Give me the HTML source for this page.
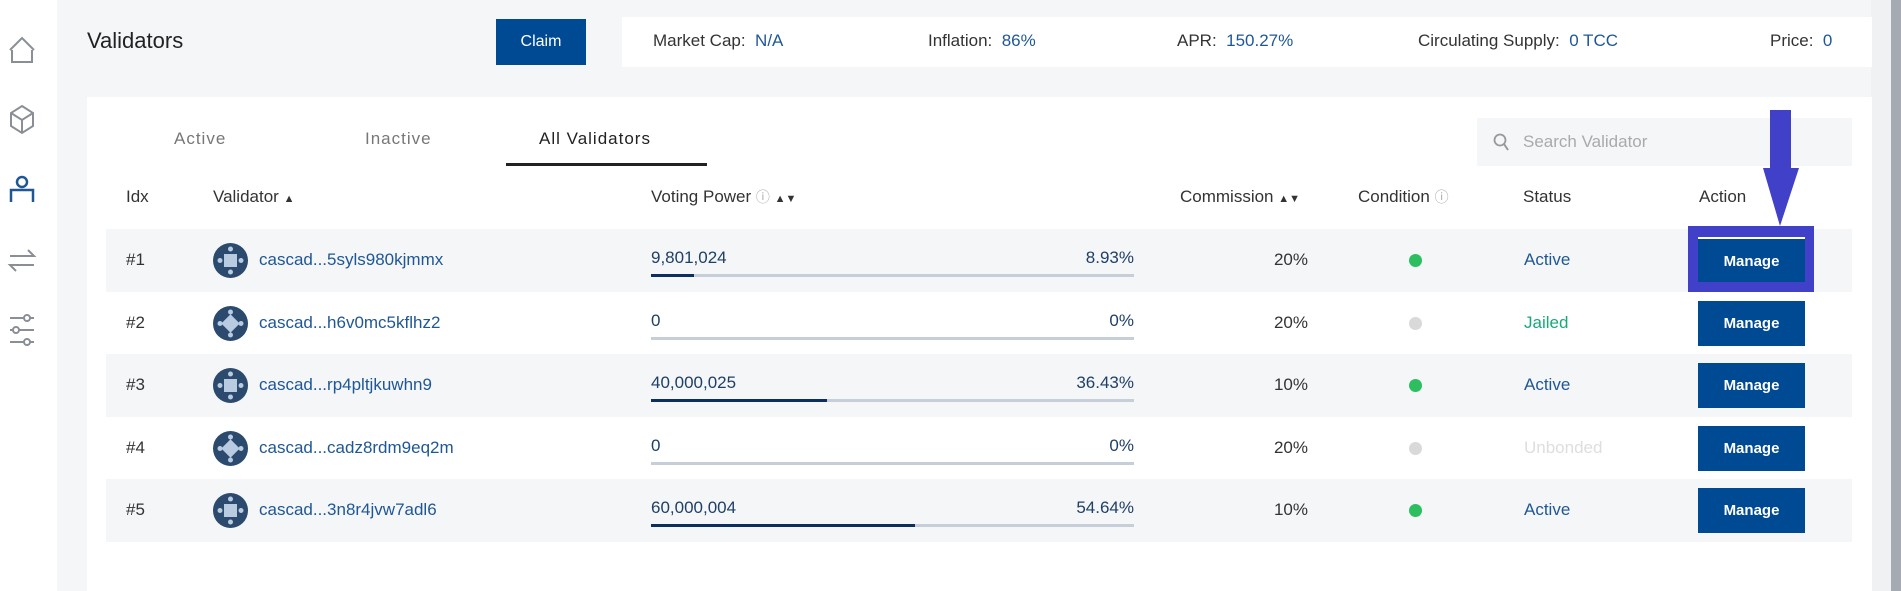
<!DOCTYPE html>
<html><head><meta charset="utf-8">
<style>
*{margin:0;padding:0;box-sizing:border-box}
body{width:1901px;height:591px;overflow:hidden;background:#f4f6f8;font-family:"Liberation Sans",sans-serif;color:#333;position:relative}
.a{position:absolute;white-space:nowrap}
#side{left:0;top:0;width:57px;height:591px;background:#fff}
.ico{stroke:#8a8f96;fill:none;stroke-width:2}
.t{font-size:17px;line-height:20px}
.blue{color:#1f5796}
.row{position:absolute;left:106px;width:1746px;height:63px}
.btn{background:#004a93;color:#fff;font-size:15px;font-weight:bold;text-align:center;line-height:45px;width:107px;height:45px}
</style></head><body>
<div id="side" class="a">
<svg width="57" height="400">
<path class="ico" d="M10 50 L22 38 L34 50 M12 50 V62 H32 V50"/>
<path class="ico" d="M22 106 L33 113 V126 L22 133 L11 126 V113 Z M11 113 L22 120 L33 113 M22 120 V133"/>
<g stroke="#1f5796" stroke-width="2.5" fill="none"><circle cx="22" cy="182" r="5"/><path d="M11 202 V190 H33 V202"/></g>
<path class="ico" d="M10 256 H34 L28 250 M34 265 H10 L16 271"/>
<g class="ico"><path d="M10 318 H34 M10 330 H34 M10 342 H34"/><circle cx="27" cy="318" r="3" fill="#fff"/><circle cx="16" cy="330" r="3" fill="#fff"/><circle cx="27" cy="342" r="3" fill="#fff"/></g>
</svg></div>
<div class="a" style="left:1871px;top:0;width:20px;height:591px;background:#f0f1f3"></div>
<div class="a" style="left:1891px;top:0;width:10px;height:591px;background:#a6abb3"></div>

<div class="a" style="left:87px;top:28px;font-size:22px;color:#222">Validators</div>
<div class="a btn" style="left:496px;top:19px;width:90px;height:46px;line-height:46px;font-weight:normal;font-size:16px">Claim</div>
<div class="a" style="left:622px;top:17px;width:1250px;height:50px;background:#fff"></div>
<div class="a t" style="left:653px;top:31px">Market Cap:&nbsp; <span class="blue">N/A</span></div>
<div class="a t" style="left:928px;top:31px">Inflation:&nbsp; <span class="blue">86%</span></div>
<div class="a t" style="left:1177px;top:31px">APR:&nbsp; <span class="blue">150.27%</span></div>
<div class="a t" style="left:1418px;top:31px">Circulating Supply:&nbsp; <span class="blue">0 TCC</span></div>
<div class="a t" style="left:1770px;top:31px">Price:&nbsp; <span class="blue">0</span></div>

<div class="a" style="left:87px;top:97px;width:1785px;height:494px;background:#fff"></div>
<div class="a t" style="left:174px;top:129px;color:#777;letter-spacing:1px">Active</div>
<div class="a t" style="left:365px;top:129px;color:#777;letter-spacing:1px">Inactive</div>
<div class="a t" style="left:539px;top:129px;color:#222;letter-spacing:1px">All Validators</div>
<div class="a" style="left:506px;top:163px;width:201px;height:3px;background:#222"></div>
<div class="a" style="left:1477px;top:118px;width:375px;height:48px;background:#f4f6f8">
<svg class="a" style="left:16px;top:15px" width="18" height="20"><circle cx="7" cy="7" r="5.5" stroke="#999" stroke-width="1.8" fill="none"/><path d="M11 11 L15 17" stroke="#999" stroke-width="2"/></svg>
<div class="a t" style="left:46px;top:14px;color:#aaa">Search Validator</div></div>

<div class="a t" style="left:126px;top:187px">Idx</div>
<div class="a t" style="left:213px;top:187px">Validator <span style="font-size:11px">▲</span></div>
<div class="a t" style="left:651px;top:187px">Voting Power <span style="color:#aaa;font-size:14px">ⓘ</span> <span style="font-size:11px">▲▼</span></div>
<div class="a t" style="left:1180px;top:187px">Commission <span style="font-size:11px">▲▼</span></div>
<div class="a t" style="left:1358px;top:187px">Condition <span style="color:#aaa;font-size:14px">ⓘ</span></div>
<div class="a t" style="left:1523px;top:187px">Status</div>
<div class="a t" style="left:1699px;top:187px">Action</div>

<div id="rows"></div>

<svg class="a" style="left:1755px;top:108px;z-index:10" width="50" height="122"><rect x="15" y="2" width="21" height="60" fill="#4040c8"/><path d="M8 60 H44 L25 118 Z" fill="#4040c8"/></svg>

<script>
const idxs=["#1","#2","#3","#4","#5"];
const names=["cascad...5syls980kjmmx","cascad...h6v0mc5kflhz2","cascad...rp4pltjkuwhn9","cascad...cadz8rdm9eq2m","cascad...3n8r4jvw7adl6"];
const votingPower=["9,801,024","0","40,000,025","0","60,000,004"];
const powerPct=[8.93,0,36.43,0,54.64];
const commission=["20%","20%","10%","20%","10%"];
const statuses=["Active","Jailed","Active","Unbonded","Active"];
const rowsEl=document.getElementById('rows');
const barX=651,barW=483;
function px(p){return barW*p/100;}
const stColor={Active:"#1f5796",Jailed:"#1aa87a",Unbonded:"#dedede"};
idxs.forEach((id,i)=>{
  const top=229+i*62.6;
  const r=document.createElement('div');
  r.className='row';r.style.top=top+'px';r.style.background=i%2==0?'#f4f6f8':'#fff';
  r.style.zIndex=i==0?5:1;
  
  
  const on=statuses[i]!=="Unbonded"&&statuses[i]!=="Jailed";
  r.innerHTML=
   `<div class="a t" style="left:20px;top:21px">${id}</div>`+
   `<svg class="a" style="left:107px;top:14px" width="35" height="35"><circle cx="17.5" cy="17.5" r="17.5" fill="#2b4a6e"/><rect x="11" y="11" width="13" height="13" fill="#b8cbe0" transform="rotate(${i%2?45:0} 17.5 17.5)"/><circle cx="7" cy="17.5" r="2.5" fill="#b8cbe0"/><circle cx="28" cy="17.5" r="2.5" fill="#b8cbe0"/><circle cx="17.5" cy="6" r="2.5" fill="#b8cbe0"/><circle cx="17.5" cy="29" r="2.5" fill="#b8cbe0"/></svg>`+
   `<div class="a t blue" style="left:153px;top:21px">${names[i]}</div>`+
   `<div class="a t" style="left:${barX-106}px;top:19px;color:#1f3f66">${votingPower[i]}</div>`+
   `<div class="a t" style="left:${barX-106}px;width:${barW}px;text-align:right;top:19px;color:#1f3f66">${powerPct[i].toFixed(2).replace(/\.00$/,'')}%</div>`+
   `<div class="a" style="left:${barX-106}px;top:45px;width:${barW}px;height:3px;background:#c5ced9"></div>`+
   `<div class="a" style="left:${barX-106}px;top:45px;width:${px(powerPct[i])}px;height:3px;background:#0d2f5e"></div>`+
   `<div class="a t" style="left:1050px;width:152px;text-align:right;top:21px">${commission[i]}</div>`+
   `<div class="a" style="left:1303px;top:25px;width:13px;height:13px;border-radius:50%;background:${on?'#2dbe60':'#d9d9d9'}"></div>`+
   `<div class="a t" style="left:1418px;top:21px;color:${stColor[statuses[i]]}">${statuses[i]}</div>`+
   (i==0?`<div class="a" style="left:1582px;top:-3px;width:126px;height:66px;background:#4040c8"></div>`:'')+
   `<div class="a btn" style="left:1592px;top:${i==0?8:9}px;${i==0?'border-top:2px solid #fff':''}">Manage</div>`;
  rowsEl.appendChild(r);
  const btn=r.lastChild;
  
  
  if(i==0){
    const hb=btn.previousSibling;
    
    
  }
});
</script>
</body></html>
